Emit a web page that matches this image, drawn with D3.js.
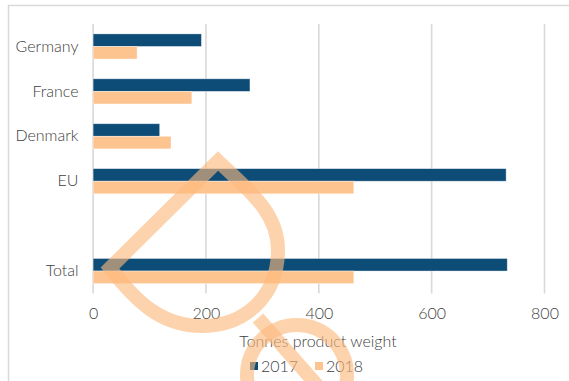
<!DOCTYPE html>
<html>
<head>
<meta charset="utf-8">
<script src="https://cdn.jsdelivr.net/npm/d3@7"></script>
<style>
  html, body { margin: 0; padding: 0; background: #fff; }
  svg { display: block; }
  text { font-family: "Lato", "Open Sans", sans-serif; font-weight: 300; fill: #404040; }
</style>
</head>
<body>
<svg id="chart" width="569" height="381"></svg>
<script>
const categories = ["Germany", "France", "Denmark", "EU", " ", "Total"];
const series = ["2017", "2018"];
const values2017 = [192, 278, 118, 732, null, 734];
const values2018 = [78, 175, 138, 462, null, 462];
const xTicks = [0, 200, 400, 600, 800];
const axisTitle = "Tonnes product weight";
const colors = { "2017": "#0d4c77", "2018": "#fec48f" };

const W = 569, H = 381;
const FS = 16;
const FONT = "Lato, 'Open Sans', sans-serif";
const svg = d3.select("#chart");

// outer chart border (top & left visible)
svg.append("line").attr("x1", 8).attr("x2", W).attr("y1", 5.5).attr("y2", 5.5)
  .attr("stroke", "#d9d9d9").attr("stroke-width", 1.5);
svg.append("line").attr("x1", 8.5).attr("x2", 8.5).attr("y1", 5).attr("y2", H)
  .attr("stroke", "#d9d9d9").attr("stroke-width", 1.5);

const plot = { left: 93.1, right: 544.5, top: 24, bottom: 293.5 };

const x = d3.scaleLinear().domain([0, 800]).range([plot.left, plot.right]);
const y = d3.scaleBand().domain(categories).range([plot.top, plot.bottom])
  .paddingInner(0.44).paddingOuter(0.22);
const ys = d3.scaleBand().domain(series).range([0, y.bandwidth()]);

// gridlines
svg.append("g").selectAll("line").data(xTicks).join("line")
  .attr("x1", d => x(d)).attr("x2", d => x(d))
  .attr("y1", plot.top).attr("y2", plot.bottom)
  .attr("stroke", "#d9d9d9").attr("stroke-width", 1.6);

// bars
const rows = categories.map((c, i) => ({ c, v: { "2017": values2017[i], "2018": values2018[i] } }));
const g = svg.append("g");
rows.forEach(r => {
  series.forEach(s => {
    if (r.v[s] == null) return;
    g.append("rect")
      .attr("x", x(0))
      .attr("y", y(r.c) + ys(s))
      .attr("width", x(r.v[s]) - x(0))
      .attr("height", ys.bandwidth())
      .attr("fill", colors[s])
      .attr("stroke", "#ffffff").attr("stroke-opacity", 0.5).attr("stroke-width", 0.75);
  });
});

// y axis labels
const yAxis = d3.axisLeft(y).tickSize(0).tickPadding(0);
const yg = svg.append("g").attr("transform", `translate(${78.5},0)`).call(yAxis);
yg.select(".domain").remove();
yg.selectAll("text").attr("font-size", FS).attr("fill", "#404040")
  .style("font-family", FONT).style("font-weight", 300);

// x axis labels
const xAxis = d3.axisBottom(x).tickValues(xTicks).tickSize(0).tickPadding(0);
const xg = svg.append("g").attr("transform", `translate(0,${308})`).call(xAxis);
xg.select(".domain").remove();
xg.selectAll("text").attr("font-size", FS).attr("fill", "#404040")
  .style("font-family", FONT).style("font-weight", 300);

// axis title
svg.append("text").attr("x", 318).attr("y", 347).attr("text-anchor", "middle")
  .attr("font-size", FS).text(axisTitle);

// legend
const leg = svg.append("g");
const legItems = [{ s: "2017", x: 250 }, { s: "2018", x: 315 }];
legItems.forEach(it => {
  leg.append("rect").attr("x", it.x).attr("y", 362).attr("width", 8).attr("height", 8)
    .attr("fill", colors[it.s]);
  leg.append("text").attr("x", it.x + 11).attr("y", 372).attr("font-size", FS).text(it.s);
});

// watermark overlay
const wm = svg.append("g").attr("fill", "none").attr("stroke", "#fcb87c")
  .attr("stroke-opacity", 0.62).attr("stroke-width", 14).attr("stroke-linejoin", "miter");
wm.append("path").attr("d",
  "M110,268 L218,161 C248,190 278,212 278,250 C278,296 245,326 202,326 C160,326 135,300 110,268 Z");
wm.append("circle").attr("cx", 297).attr("cy", 375).attr("r", 50);
wm.append("line").attr("x1", 258).attr("y1", 318).attr("x2", 330).attr("y2", 400);
</script>
</body>
</html>
